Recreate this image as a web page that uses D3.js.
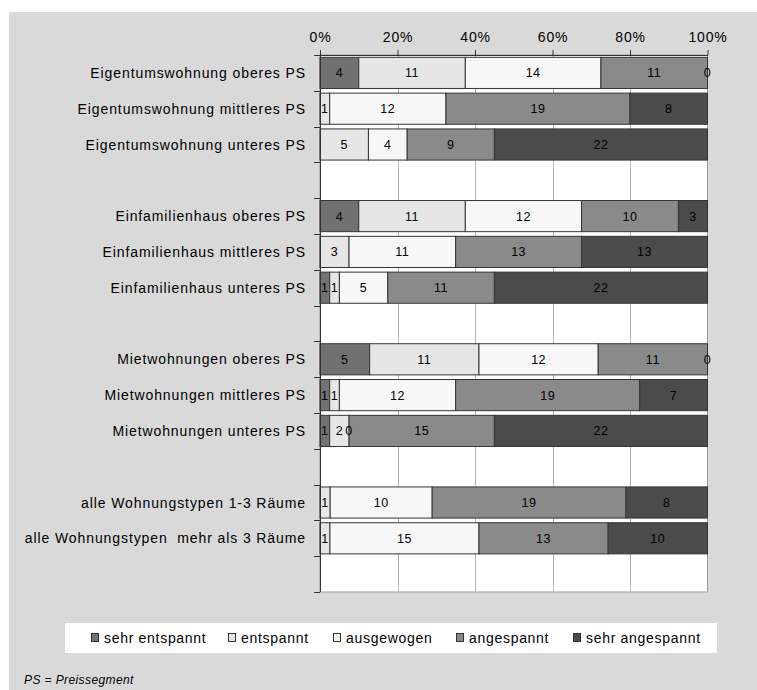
<!DOCTYPE html>
<html><head><meta charset="utf-8">
<script src="https://cdn.jsdelivr.net/npm/d3@7"></script>
<style>
html,body{margin:0;padding:0;background:#fff;}
svg text{font-family:"Liberation Sans",Arial,sans-serif;}
</style></head>
<body>
<svg id="chart" width="757" height="690"></svg>
<script>
const categories = ["Eigentumswohnung oberes PS","Eigentumswohnung mittleres PS","Eigentumswohnung unteres PS","",
  "Einfamilienhaus oberes PS","Einfamilienhaus mittleres PS","Einfamilienhaus unteres PS","",
  "Mietwohnungen oberes PS","Mietwohnungen mittleres PS","Mietwohnungen unteres PS","",
  "alle Wohnungstypen 1-3 Räume","alle Wohnungstypen  mehr als 3 Räume",""];
const seriesNames = ["sehr entspannt","entspannt","ausgewogen","angespannt","sehr angespannt"];
const sehrEntspannt  = [4,null,null,null,4,null,1,null,5,1,1,null,null,null,null];
const entspannt      = [11,1,5,null,11,3,1,null,11,1,2,null,1,1,null];
const ausgewogen     = [14,12,4,null,12,11,5,null,12,12,0,null,10,15,null];
const angespannt     = [11,19,9,null,10,13,11,null,11,19,15,null,19,13,null];
const sehrAngespannt = [0,8,22,null,3,13,22,null,0,7,22,null,8,10,null];
const tickLabels = ["0%","20%","40%","60%","80%","100%"];
const footnote = "PS = Preissegment";

const series = [sehrEntspannt, entspannt, ausgewogen, angespannt, sehrAngespannt];
const colors = ["#717171","#e6e6e6","#f7f7f7","#8a8a8a","#4b4b4b"];

const svg = d3.select("#chart");
svg.append("rect").attr("x",9).attr("y",12).attr("width",748).attr("height",678).attr("fill","#d9d9d9");

const L = 320, R = 707.5, T = 55, B = 592;
const x = d3.scaleLinear().domain([0,1]).range([L,R]);
const y = d3.scaleBand().domain(d3.range(categories.length)).range([T,B]).paddingInner(0.13).paddingOuter(0.065);

svg.append("rect").attr("x",L).attr("y",T).attr("width",R-L).attr("height",B-T)
  .attr("fill","#fff").attr("stroke","#9a9a9a").attr("stroke-width",1);

svg.append("g").selectAll("line").data([0.2,0.4,0.6,0.8]).join("line")
  .attr("x1",d=>Math.round(x(d))+0.5).attr("x2",d=>Math.round(x(d))+0.5)
  .attr("y1",T).attr("y2",B).attr("stroke","#b3b3b3").attr("stroke-width",1);

const rows = categories.map((c,i)=>{
  let cum = 0;
  const total = d3.sum(series, s=>s[i]||0);
  const segs = [];
  series.forEach((s,k)=>{
    const v = s[i];
    if (v===null || total===0) return;
    segs.push({row:i,k,v,x0:cum/total,x1:(cum+v)/total});
    cum += v;
  });
  return segs;
});
const segs = rows.flat();
const g = svg.append("g");
g.selectAll("rect").data(segs.filter(d=>d.v>0)).join("rect")
  .attr("x",d=>x(d.x0)).attr("width",d=>x(d.x1)-x(d.x0))
  .attr("y",d=>y(d.row)).attr("height",y.bandwidth())
  .attr("fill",d=>colors[d.k]).attr("stroke","#353535").attr("stroke-width",1);
g.selectAll("text").data(segs).join("text")
  .attr("x",d=>(x(d.x0)+x(d.x1))/2).attr("y",d=>y(d.row)+y.bandwidth()/2)
  .attr("dy","0.36em").attr("text-anchor","middle")
  .attr("font-size",12.5).attr("letter-spacing",0.5).attr("fill","#000")
  .text(d=>d.v);

const xAxis = d3.axisTop(x).tickValues([0,0.2,0.4,0.6,0.8,1]).tickFormat((d,i)=>tickLabels[i]).tickSize(5).tickSizeOuter(0);
const ax = svg.append("g").attr("transform",`translate(0,${T})`).call(xAxis);
ax.select(".domain").attr("stroke","#333");
ax.selectAll(".tick line").attr("stroke","#333");
ax.selectAll(".tick text").attr("font-size",14).attr("letter-spacing",0.8).attr("fill","#000").attr("y",-13)
  .attr("font-family","Liberation Sans, Arial, sans-serif");

svg.append("line").attr("x1",L+0.5).attr("x2",L+0.5).attr("y1",T).attr("y2",B).attr("stroke","#333");
svg.append("g").selectAll("line").data(d3.range(categories.length+1)).join("line")
  .attr("x1",L-6).attr("x2",L).attr("y1",d=>Math.round(T+(B-T)*d/categories.length)+0.5)
  .attr("y2",d=>Math.round(T+(B-T)*d/categories.length)+0.5).attr("stroke","#333");

svg.append("g").selectAll("text").data(categories.map((c,i)=>({c,i})).filter(d=>d.c)).join("text")
  .attr("x",306).attr("y",d=>y(d.i)+y.bandwidth()/2).attr("dy","0.36em")
  .attr("text-anchor","end").attr("font-size",14).attr("letter-spacing",0.9).attr("fill","#000")
  .style("white-space","pre").text(d=>d.c);

svg.append("rect").attr("x",65).attr("y",623).attr("width",652).attr("height",30).attr("fill","#fff");
const legX = [91,228,333,456,573];
const lg = svg.append("g").selectAll("g").data(seriesNames).join("g")
  .attr("transform",(d,i)=>`translate(${legX[i]},638)`);
lg.append("rect").attr("x",0.5).attr("y",-4.5).attr("width",7).attr("height",8)
  .attr("fill",(d,i)=>colors[i]).attr("stroke","#333").attr("stroke-width",1);
lg.append("text").attr("x",13).attr("dy","0.36em").attr("font-size",14).attr("letter-spacing",0.7)
  .attr("fill","#000").text(d=>d);

svg.append("text").attr("x",24).attr("y",684).attr("font-size",12).attr("font-style","italic")
  .attr("letter-spacing",0.4).attr("fill","#000").text(footnote);
</script>
</body></html>
